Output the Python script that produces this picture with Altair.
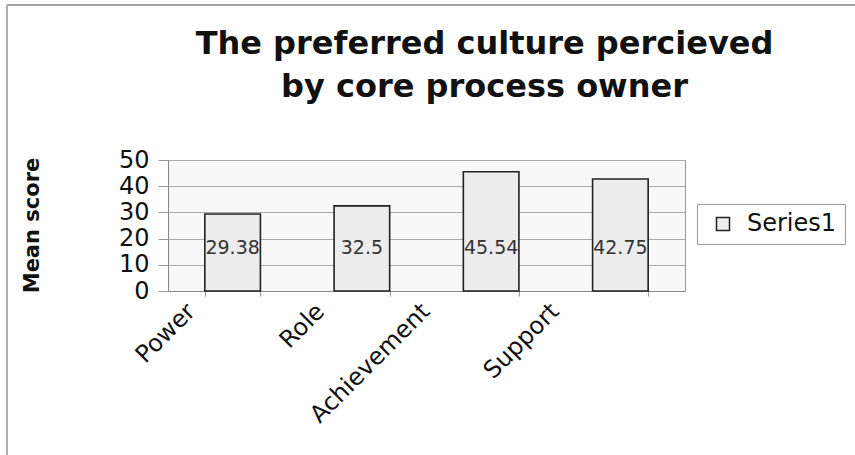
import altair as alt
import pandas as pd

categories = ["Power", "Role", "Achievement", "Support"]
values = [29.38, 32.5, 45.54, 42.75]
value_labels = ["29.38", "32.5", "45.54", "42.75"]
series_name = "Series1"
title_lines = ["The preferred culture percieved", "by core process owner"]
y_ticks = [0, 10, 20, 30, 40, 50]

df = pd.DataFrame({
    "category": categories,
    "value": values,
    "label": value_labels,
    "series": [series_name] * len(categories),
    "labely": [16.5] * len(categories),
})

FONT = "DejaVu Sans"

x_axis = alt.Axis(
    title=None,
    labelAngle=-45,
    labelAlign="right",
    labelBaseline="top",
    labelFontSize=24,
    labelFont=FONT,
    labelColor="#111",
    labelOffset={
        "condition": {
            "test": "datum.value == 'Achievement' || datum.value == 'Support'",
            "value": -74,
        },
        "value": -50,
    },
    labelPadding=3,
    tickBand="extent",
    tickSize=5,
    tickColor="#999",
    domainColor="#888",
    grid=False,
)
x_scale = alt.Scale(paddingInner=0.57, paddingOuter=0.285)

y_axis = alt.Axis(
    title="Mean score",
    values=y_ticks,
    labelOverlap=False,
    labelFontSize=24,
    labelFont=FONT,
    labelColor="#111",
    labelPadding=9,
    tickSize=10,
    tickColor="#999",
    domainColor="#888",
    gridColor="#aaa",
    titleFont=FONT,
    titleFontSize=21,
    titleFontWeight="bold",
    titleColor="#111",
    titleAngle=-90,
    titleX=-136,
    titleY=65,
    titleAlign="center",
    titleBaseline="middle",
)
y_scale = alt.Scale(domain=[0, 50])

bars = alt.Chart(df).mark_bar(stroke="#222", strokeWidth=1.6).encode(
    x=alt.X("category:N", sort=categories, scale=x_scale, axis=x_axis),
    y=alt.Y("value:Q", scale=y_scale, axis=y_axis),
    color=alt.Color(
        "series:N",
        scale=alt.Scale(range=["#ececec"]),
        legend=alt.Legend(
            title=None,
            orient="none",
            legendX=529,
            legendY=44,
            symbolType="square",
            symbolSize=170,
            symbolStrokeColor="#222",
            symbolStrokeWidth=1.5,
            symbolOffset=6,
            labelFontSize=24,
            labelFont=FONT,
            labelColor="#111",
            strokeColor="#999",
            padding=8,
            labelOffset=12,
            labelLimit=300,
        ),
    ),
)

labels = alt.Chart(df).mark_text(fontSize=19, font=FONT, color="#333").encode(
    x=alt.X("category:N", sort=categories, scale=x_scale, axis=x_axis),
    y=alt.Y("labely:Q", scale=y_scale, axis=y_axis),
    text="label:N",
)

frame_top = alt.Chart(df).mark_rule(color="#999", strokeWidth=1).encode(
    x=alt.value(-161), x2=alt.value(690), y=alt.value(-155)
)
frame_left = alt.Chart(df).mark_rule(color="#aaa", strokeWidth=1).encode(
    x=alt.value(-161), y=alt.value(-155), y2=alt.value(300)
)

chart = (
    alt.layer(frame_top, frame_left, bars, labels)
    .properties(
        width=517,
        height=131,
        padding={"left": 168, "top": 160, "right": 170, "bottom": 164},
        autosize=alt.AutoSizeParams(type="none"),
        title=alt.TitleParams(
            text=title_lines,
            font=FONT,
            fontSize=32,
            fontWeight="bold",
            color="#111",
            anchor="middle",
            dx=58,
            offset=-99,
            lineHeight=43,
        ),
        background="white",
    )
    .configure_view(fill="#f8f8f8", stroke="#999")
)

chart.save("out.html", embed_options={"renderer": "svg", "actions": False})
